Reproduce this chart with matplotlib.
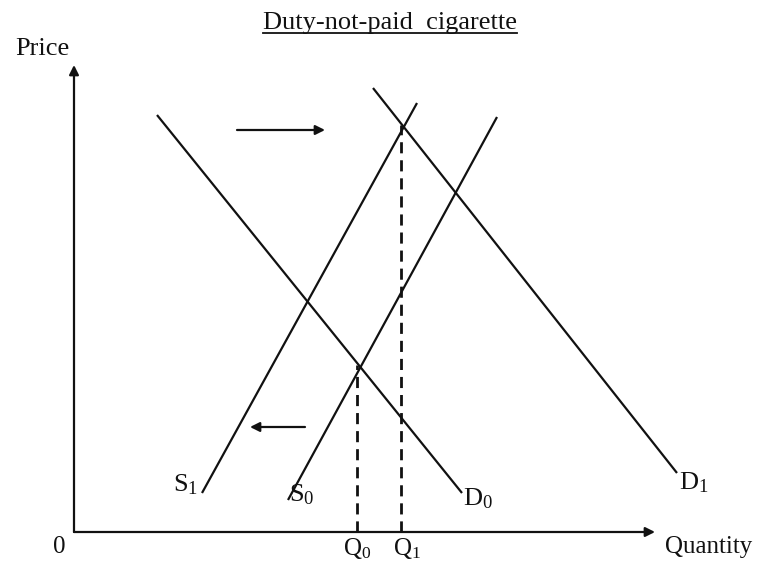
import matplotlib
matplotlib.use("Agg")
import matplotlib.pyplot as plt
from matplotlib.lines import Line2D

plt.rcParams['font.family'] = ['Liberation Serif', 'DejaVu Serif']
plt.rcParams['mathtext.fontset'] = 'custom'
plt.rcParams['mathtext.rm'] = 'Liberation Serif'
plt.rcParams['mathtext.it'] = 'Liberation Serif:italic'

# Data (quantity, price) in chart units
title = "Duty-not-paid  cigarette"
x_label = "Quantity"
y_label = "Price"
origin_label = "0"

D0_q = [8.3, 38.8]
D0_p = [41.7, 3.9]
D1_q = [29.9, 60.3]
D1_p = [44.4, 5.9]
S1_q = [12.8, 34.3]
S1_p = [3.9, 42.9]
S0_q = [21.4, 42.3]
S0_p = [3.2, 41.5]

Q0, P0 = 28.3, 16.7
Q1, P1 = 32.7, 40.7

demand_shift = ([16.3, 25.1], 40.2)   # arrow to the right
supply_shift = ([23.1, 17.6], 10.5)   # arrow to the left

x_max, y_max = 58.1, 46.7

fig = plt.figure(figsize=(7.8, 5.63), dpi=100)
ax = fig.add_axes([0, 0, 1, 1])
ax.set_xlim(-7.4, 70.6)
ax.set_ylim(-3.1, 53.2)
ax.axis('off')

lw = 1.6
col = '#111111'
for q, p in [(D0_q, D0_p), (D1_q, D1_p), (S1_q, S1_p), (S0_q, S0_p)]:
    ax.plot(q, p, color=col, lw=lw, solid_capstyle='butt')

for q, p in [(Q0, P0), (Q1, P1)]:
    ax.plot([q, q], [0, p], color=col, lw=2.0, linestyle=(0, (4, 2.5)))

arrow_kw = dict(arrowstyle='-|>', color=col, lw=1.6, mutation_scale=14,
                shrinkA=0, shrinkB=0)
# axes with arrows
ax.annotate('', xy=(x_max, 0), xytext=(0, 0), arrowprops=arrow_kw)
ax.annotate('', xy=(0, y_max), xytext=(0, 0), arrowprops=arrow_kw)

# shift arrows
for (qs, p) in [demand_shift, supply_shift]:
    ax.annotate('', xy=(qs[1], p), xytext=(qs[0], p), arrowprops=arrow_kw)

fs = 19
fs_axis = 18
# curve labels
ax.text(S1_q[0] - 0.4, S1_p[0] + 0.8, r'S$_1$', fontsize=fs, ha='right', va='center', color=col)
ax.text(S0_q[0] + 0.1, S0_p[0] + 0.5, r'S$_0$', fontsize=fs, ha='left', va='center', color=col)
ax.text(D0_q[1] + 0.1, D0_p[1] - 0.6, r'D$_0$', fontsize=fs, ha='left', va='center', color=col)
ax.text(D1_q[1] + 0.2, D1_p[1] - 1.0, r'D$_1$', fontsize=fs, ha='left', va='center', color=col)

# quantity tick labels
ax.text(Q0, -0.4, r'Q$_0$', fontsize=fs_axis, ha='center', va='top', color=col)
ax.text(Q1 + 0.6, -0.4, r'Q$_1$', fontsize=fs_axis, ha='center', va='top', color=col)
ax.text(-0.8, -0.4, origin_label, fontsize=fs_axis, ha='right', va='top', color=col)

ax.text(x_max + 1.0, -0.4, x_label, fontsize=fs_axis, ha='left', va='top', color=col)
ax.text(-3.2, y_max + 1.6, y_label, fontsize=fs, ha='center', va='center', color=col)

t = ax.text(31.6, 50.9, title, fontsize=fs, ha='center', va='center', color=col)
fig.canvas.draw()
bb = t.get_window_extent().transformed(fig.transFigure.inverted())
fig.add_artist(Line2D([bb.x0, bb.x1], [bb.y0 + 0.002, bb.y0 + 0.002],
                      transform=fig.transFigure, color=col, lw=1.3))

fig.savefig('out.png', dpi=100)
